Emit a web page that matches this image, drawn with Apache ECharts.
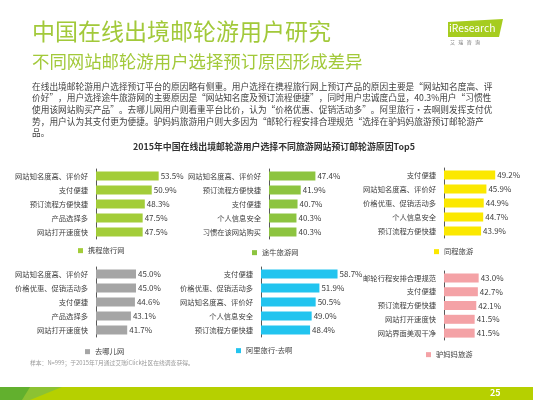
<!DOCTYPE html>
<html><head><meta charset="utf-8">
<script src="https://cdn.jsdelivr.net/npm/echarts@6/dist/echarts.min.js"></script>
<style>html,body{margin:0;padding:0;background:#fff}#c{width:533px;height:400px}</style>
</head><body><div id="c"></div>
<script>
// ---- data ----
const seriesNames = ['携程旅行网','途牛旅游网','同程旅游','去哪儿网','阿里旅行-去啊','驴妈妈旅游'];
const ctripCats = ['网站知名度高、评价好','支付便捷','预订流程方便快捷','产品选择多','网站打开速度快'];
const ctripVals = [53.5,50.9,48.3,47.5,47.5];
const tuniuCats = ['网站知名度高、评价好','预订流程方便快捷','支付便捷','个人信息安全','习惯在该网站购买'];
const tuniuVals = [47.4,41.9,40.7,40.3,40.3];
const lyCats = ['支付便捷','网站知名度高、评价好','价格优惠、促销活动多','个人信息安全','预订流程方便快捷'];
const lyVals = [49.2,45.9,44.9,44.7,43.9];
const qunarCats = ['网站知名度高、评价好','价格优惠、促销活动多','支付便捷','产品选择多','网站打开速度快'];
const qunarVals = [45.0,45.0,44.6,43.1,41.7];
const aliCats = ['支付便捷','价格优惠、促销活动多','网站知名度高、评价好','个人信息安全','预订流程方便快捷'];
const aliVals = [58.7,51.9,50.5,49.0,48.4];
const lvmamaCats = ['邮轮行程安排合理规范','支付便捷','预订流程方便快捷','网站打开速度快','网站界面美观干净'];
const lvmamaVals = [43.0,42.7,42.1,41.5,41.5];

const titleText = '中国在线出境邮轮游用户研究';
const subtitleText = '不同网站邮轮游用户选择预订原因形成差异';
const bodyLines = [
 '在线出境邮轮游用户选择预订平台的原因略有侧重。用户选择在携程旅行网上预订产品的原因主要是“网站知名度高、评',
 '价好”，用户选择途牛旅游网的主要原因是“网站知名度及预订流程便捷”，同时用户忠诚度凸显，40.3%用户“习惯性',
 '使用该网站购买产品”。去哪儿网用户则看重平台比价，认为“价格优惠、促销活动多”。阿里旅行·去啊则发挥支付优',
 '势，用户认为其支付更为便捷。驴妈妈旅游用户则大多因为“邮轮行程安排合理规范“选择在驴妈妈旅游预订邮轮游产',
 '品。'
];
const chartTitle = '2015年中国在线出境邮轮游用户选择不同旅游网站预订邮轮游原因Top5';
const sourceText = '样本：N=999；于2015年7月通过艾瑞iClick社区在线调查获得。';
const pageNum = '25';

// ---- layout ----
const FONT = '"Noto Sans CJK SC","Noto Sans",sans-serif';
const panels = [
  {cats: ctripCats, vals: ctripVals, color:'#a3cd39', left:96, top:169, h:70, lg:[78,247]},
  {cats: tuniuCats, vals: tuniuVals, color:'#8dc440', left:269, top:169, h:70, lg:[252,249]},
  {cats: lyCats, vals: lyVals, color:'#fbe800', left:444, top:168, h:70, lg:[434,248]},
  {cats: qunarCats, vals: qunarVals, color:'#a5a5a5', left:96, top:267, h:70, lg:[85,348]},
  {cats: aliCats, vals: aliVals, color:'#22c4ef', left:261, top:267, h:70, lg:[236,347]},
  {cats: lvmamaCats, vals: lvmamaVals, color:'#f4a2a6', left:444, top:271, h:69, lg:[426,351]}
];

const grid=[], xAxis=[], yAxis=[], series=[], legend=[];
panels.forEach((p,i)=>{
  grid.push({left:p.left, top:p.top, width:80, height:p.h, containLabel:false});
  xAxis.push({type:'value', gridIndex:i, min:30, max:60, show:false});
  yAxis.push({type:'category', gridIndex:i, data:p.cats, inverse:true,
    axisLine:{show:true, lineStyle:{color:'#595959', width:1}},
    axisTick:{show:false},
    axisLabel:{fontSize:7.3, color:'#404040', margin:8, fontFamily:FONT}});
  series.push({type:'bar', name:seriesNames[i], xAxisIndex:i, yAxisIndex:i, data:p.vals,
    barWidth:9, itemStyle:{color:p.color}, silent:true,
    label:{show:true, position:'right', distance:2, fontSize:8, color:'#404040', fontFamily:FONT,
      formatter:(d)=>d.value.toFixed(1)+'%'}});
  legend.push({data:[seriesNames[i]], left:p.lg[0], top:p.lg[1], icon:'rect', itemWidth:5, itemHeight:5,
    selectedMode:false, padding:0, textStyle:{fontSize:7.3, color:'#404040', fontFamily:FONT}});
});

const graphic = [
  {type:'text', left:32, top:20, style:{text:titleText, font:'23px '+FONT, fill:'#a2c93a'}},
  {type:'text', left:32, top:53, style:{text:subtitleText, font:'17.4px '+FONT, fill:'#a2c93a'}},
  {type:'text', left:133, top:142, style:{text:chartTitle, font:'bold 8.9px '+FONT, fill:'#333'}},
  {type:'text', left:30, top:360, style:{text:sourceText, font:'5.8px '+FONT, fill:'#9a9a9a'}},
  // logo
  {type:'polygon', shape:{points:[[448,22],[503,19],[499,37],[448,37]]}, style:{fill:'#a6cc1f'}},
  {type:'text', left:449, top:23, style:{text:'iResearch', font:'10.3px '+FONT, fill:'#fff'}},
  {type:'text', left:450, top:40, style:{text:'艾   瑞   咨   询', font:'5px '+FONT, fill:'#777'}},
  // footer
  {type:'rect', shape:{x:0,y:387,width:533,height:13}, style:{fill:'#b6d000'}},
  {type:'polygon', shape:{points:[[0,387],[62,387],[30,400],[0,400]]}, style:{fill:'#8cc232'}},
  {type:'polygon', shape:{points:[[0,387],[30,387],[22,400],[0,400]]}, style:{fill:'#62b02e'}},
  {type:'text', left:490, top:388, style:{text:pageNum, font:'bold 9px '+FONT, fill:'#fff'}}
];
bodyLines.forEach((t,i)=>{
  graphic.push({type:'text', left:32, top:82+i*11.7, style:{text:t, font:'8.7px '+FONT, fill:'#404040'}});
});

const chart = echarts.init(document.getElementById('c'), null, {renderer:'canvas'});
chart.setOption({animation:false, backgroundColor:'#fff', grid, xAxis, yAxis, series, legend, graphic});
</script></body></html>
